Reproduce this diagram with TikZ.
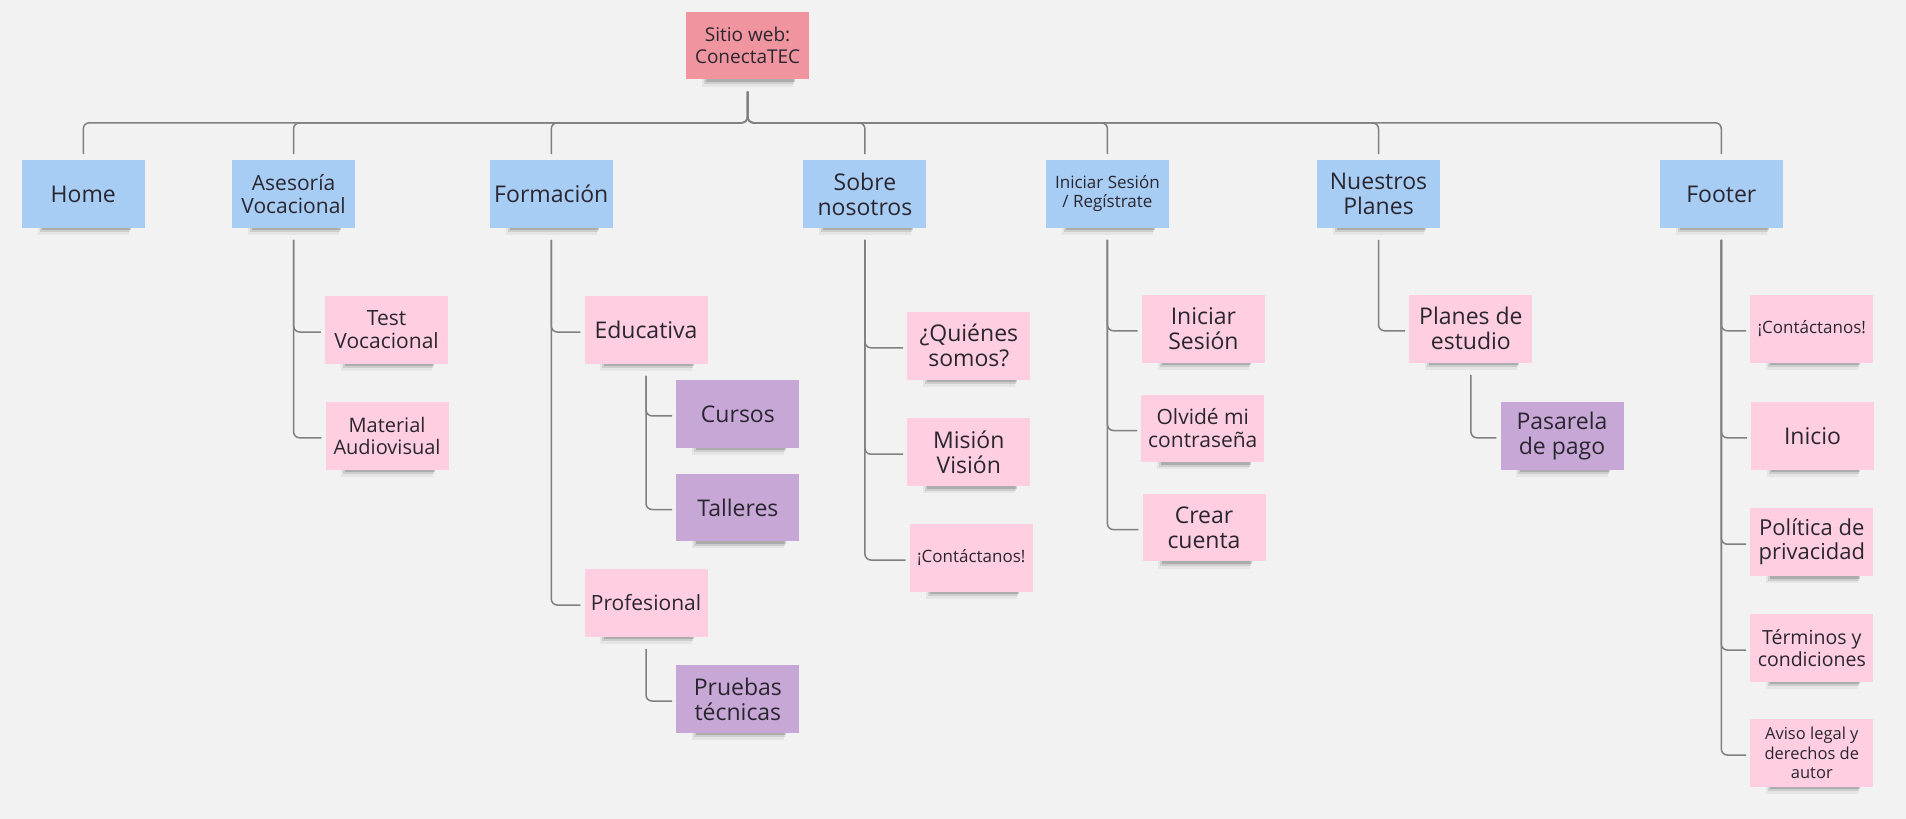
\documentclass[tikz,border=0pt]{standalone}
\usepackage{fontspec}
\setmainfont{Open Sans}
\usetikzlibrary{backgrounds}
\definecolor{bg}{HTML}{F2F2F2}
\definecolor{noteblue}{HTML}{A8CDF4}
\definecolor{notepink}{HTML}{FFCEE0}
\definecolor{notepurple}{HTML}{C7A7D6}
\definecolor{notered}{HTML}{F0959F}
\definecolor{linegray}{HTML}{808080}
\definecolor{txt}{HTML}{2A2630}
\tikzset{
  note/.style={rectangle, minimum width=123pt, minimum height=67.5pt, inner sep=2pt,
    align=center, text=txt},
  blue/.style={note, fill=noteblue},
  pink/.style={note, fill=notepink},
  purple/.style={note, fill=notepurple},
  rootnote/.style={note, fill=notered},
  fA/.style={font=\fontsize{23}{25}\selectfont},
  fB/.style={font=\fontsize{21}{23}\selectfont},
  fC/.style={font=\fontsize{17}{19}\selectfont},
  fD/.style={font=\fontsize{19}{22.5}\selectfont},
  conn/.style={draw=linegray, line width=1.5pt, rounded corners=6pt},
  shadowA/.style={fill=black, opacity=.16},
  shadowB/.style={fill=black, opacity=.10},
  shadowC/.style={fill=black, opacity=.05}
}
\begin{document}
\begin{tikzpicture}[x=1pt, y=-1pt]
\useasboundingbox (0,0) rectangle (1906,819);

% root and top row
\node[rootnote, fD] (root) at (747.6,45.6) {Sitio web:\\ConectaTEC};
\coordinate (bus) at (0,122.8);
\node[blue, fA] (home)  at (83.3,194)   {Home};
\node[blue, fB] (ases)  at (293.6,194)  {Asesoría\\Vocacional};
\node[blue, fA] (form)  at (551.3,194)  {Formación};
\node[blue, fA] (sobre) at (864.9,194)  {Sobre\\nosotros};
\node[blue, fC] (inic)  at (1107.4,194) {Iniciar Sesión\\/ Regístrate};
\node[blue, fA] (nuest) at (1378.5,194) {Nuestros\\Planes};
\node[blue, fA] (foot)  at (1721.3,194) {Footer};

% children
\node[pink, fB] (testv) at (386.6,330) {Test\\Vocacional};
\node[pink, font=\fontsize{20}{22}\selectfont] (matav) at (387,435.8) {Material\\Audiovisual};

\node[pink, fA] (educ) at (646,330) {Educativa};
\node[purple, fA] (cursos) at (737.9,413.9) {Cursos};
\node[purple, fA] (talleres) at (737.9,507.5) {Talleres};
\node[pink, fB] (prof) at (646,603) {Profesional};
\node[purple, fA] (pruebas) at (737.9,699) {Pruebas\\técnicas};

\node[pink, fA] (quien) at (968.8,345.8) {¿Quiénes\\somos?};
\node[pink, fA] (mision) at (968.8,452.2) {Misión\\Visión};
\node[pink, fC] (contS) at (971.3,558) {¡Contáctanos!};

\node[pink, fA] (inses) at (1203.4,328.8) {Iniciar\\Sesión};
\node[pink, fB] (olv) at (1202.8,428.5) {Olvidé mi\\contraseña};
\node[pink, fA] (crear) at (1204,527.6) {Crear\\cuenta};

\node[pink, fA] (planes) at (1470.9,328.8) {Planes de\\estudio};
\node[purple, fA] (pasar) at (1562,435.8) {Pasarela\\de pago};

\node[pink, fC] (contF) at (1811.8,328.8) {¡Contáctanos!};
\node[pink, fA] (inicio) at (1812.5,435.8) {Inicio};
\node[pink, font=\fontsize{22}{24}\selectfont] (polit) at (1811.8,542.2) {Política de\\privacidad};
\node[pink, font=\fontsize{19.5}{22}\selectfont] (termin) at (1811.8,648) {Términos y\\condiciones};
\node[pink, font=\fontsize{16.5}{19.5}\selectfont] (aviso) at (1811.8,753) {Aviso legal y\\derechos de\\autor};

% root to top row
\foreach \t in {home,ases,form,sobre,inic,nuest,foot}
  \draw[conn] ([yshift=-12pt]root.south) |- (bus -| \t) -- ([yshift=6pt]\t.north);

% sub-trees
\foreach \p/\c in {ases/testv, ases/matav,
                   form/educ, form/prof,
                   educ/cursos, educ/talleres,
                   prof/pruebas,
                   sobre/quien, sobre/mision, sobre/contS,
                   inic/inses, inic/olv, inic/crear,
                   nuest/planes, planes/pasar,
                   foot/contF, foot/inicio, foot/polit, foot/termin, foot/aviso}
  \draw[conn] ([yshift=-12pt]\p.south) |- ([xshift=-4pt,yshift=-2pt]\c.west);

% background and note shadows
\begin{scope}[on background layer]
  \fill[bg] (0,0) rectangle (1906,819);
  \foreach \n in {root,home,ases,form,sobre,inic,nuest,foot,testv,matav,educ,cursos,talleres,
                  prof,pruebas,quien,mision,contS,inses,olv,crear,planes,pasar,
                  contF,inicio,polit,termin,aviso}{
    \fill[shadowC] ([xshift=16pt,yshift=1pt]\n.south west) rectangle ([xshift=-16pt,yshift=-7pt]\n.south east);
    \fill[shadowB] ([xshift=18pt,yshift=1pt]\n.south west) rectangle ([xshift=-15pt,yshift=-4.5pt]\n.south east);
    \fill[shadowA] ([xshift=20pt,yshift=1pt]\n.south west) rectangle ([xshift=-14pt,yshift=-2.5pt]\n.south east);
  }
\end{scope}
\end{tikzpicture}
\end{document}
